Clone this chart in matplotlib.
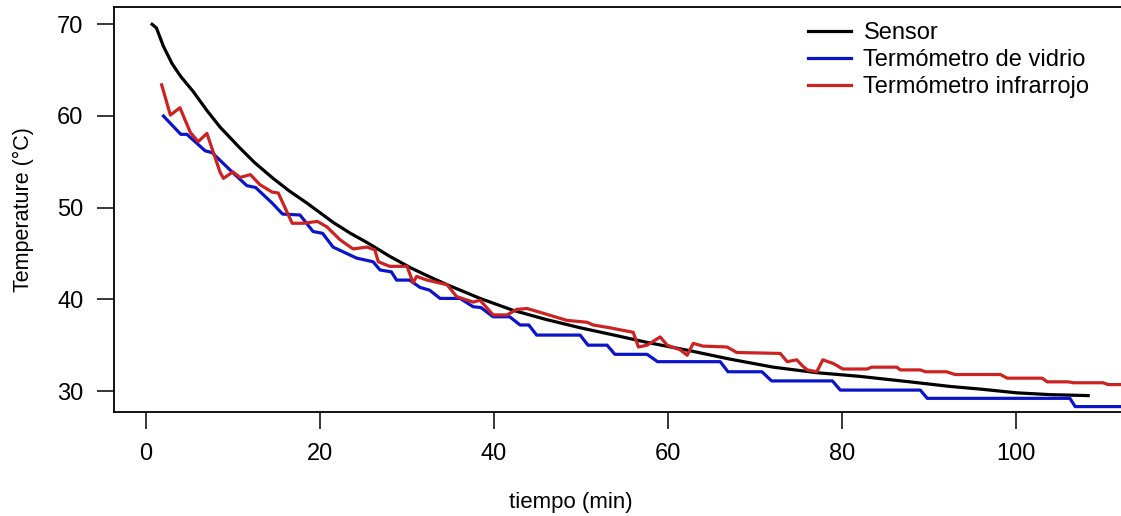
import matplotlib
matplotlib.use("Agg")
import matplotlib.pyplot as plt

plt.rcParams['font.family'] = ['Liberation Sans', 'DejaVu Sans']

# Sensor (black)
sensor_t = [0.7, 1.2, 2.0, 3.0, 4.0, 5.4, 7.0, 8.5, 10.8, 12.5, 14.6, 16.5, 18.5, 21.5,
            23.5, 25.4, 28.0, 30.5, 32.5, 34.6, 38.4, 42.2, 46.0, 49.9, 53.8, 57.6,
            62.5, 67.0, 72.1, 77.1, 82.0, 87.8, 92.4, 96.0, 100.1, 104.0, 108.3]
sensor_T = [70.0, 69.6, 67.6, 65.7, 64.3, 62.7, 60.6, 58.8, 56.5, 54.9, 53.2, 51.8, 50.5, 48.4,
            47.2, 46.2, 44.7, 43.4, 42.5, 41.6, 40.1, 38.8, 37.8, 36.9, 36.1, 35.3,
            34.4, 33.5, 32.6, 32.0, 31.6, 31.0, 30.5, 30.2, 29.8, 29.6, 29.5]

# Termómetro de vidrio (blue)
vidrio_t = [2, 4, 4.7, 6.8, 7.6, 10, 11.6, 12.6, 14.5, 15.7, 17.7, 19.2, 20.3, 21.5,
            24.2, 26.1, 26.9, 28.2, 28.8, 30.3, 31.5, 32.6, 33.8, 36.1, 37.6, 38.5,
            39.9, 41.8, 43.0, 44.0, 44.9, 49.9, 50.8, 53.0, 53.9, 57.6, 58.8, 66.0,
            66.9, 70.8, 71.9, 78.9, 79.8, 89.0, 89.8, 106.2, 106.8, 113.0]
vidrio_T = [60, 58, 58, 56.2, 56, 53.8, 52.4, 52.2, 50.5, 49.3, 49.2, 47.4, 47.2, 45.7,
            44.5, 44.1, 43.2, 43.0, 42.1, 42.1, 41.3, 41.0, 40.1, 40.1, 39.2, 39.1,
            38.1, 38.1, 37.2, 37.2, 36.1, 36.1, 35.0, 35.0, 34.0, 34.0, 33.2, 33.2,
            32.1, 32.1, 31.1, 31.1, 30.1, 30.1, 29.2, 29.2, 28.3, 28.3]

# Termómetro infrarrojo (red)
infra_t = [1.8, 2.8, 3.9, 5.1, 6.0, 7.0, 8.5, 8.9, 10.0, 10.8, 12.0, 13.1, 14.5, 15.2,
           16.8, 18.1, 19.7, 20.8, 22.3, 23.8, 25.4, 26.3, 26.7, 28.0, 30.0, 30.7,
           31.1, 32.3, 34.6, 35.7, 37.6, 38.4, 39.9, 41.5, 42.6, 43.8, 45.6, 48.4,
           50.7, 51.4, 53.3, 56.0, 56.6, 57.6, 59.1, 59.9, 61.4, 62.2, 62.9, 64.0,
           66.8, 67.9, 72.9, 73.7, 74.8, 75.4, 76.0, 77.1, 77.8, 79.0, 80.1, 82.9,
           83.4, 86.3, 86.7, 89.0, 89.6, 92.0, 93.0, 98.2, 99.0, 103.0, 103.6, 106.0,
           106.6, 110.0, 110.6, 113.0]
infra_T = [63.4, 60.1, 60.9, 58.2, 57.2, 58.1, 53.9, 53.2, 53.9, 53.3, 53.6, 52.5, 51.7, 51.6,
           48.3, 48.3, 48.5, 47.9, 46.5, 45.5, 45.7, 45.4, 44.1, 43.6, 43.6, 41.8,
           42.5, 42.1, 41.6, 40.3, 39.7, 39.9, 38.3, 38.3, 38.9, 39.0, 38.5, 37.7,
           37.5, 37.2, 36.9, 36.4, 34.8, 35.0, 35.9, 35.0, 34.5, 33.9, 35.2, 34.9,
           34.8, 34.2, 34.1, 33.2, 33.4, 32.8, 32.3, 32.1, 33.4, 33.0, 32.4, 32.4,
           32.6, 32.6, 32.3, 32.3, 32.1, 32.1, 31.8, 31.8, 31.4, 31.4, 31.0, 31.0,
           30.9, 30.9, 30.7, 30.7]

labels = ["Sensor", "Termómetro de vidrio", "Termómetro infrarrojo"]
x_ticks = [0, 20, 40, 60, 80, 100]
y_ticks = [30, 40, 50, 60, 70]

W, H = 1121, 516
fig = plt.figure(figsize=(W / 100, H / 100), dpi=100)
ax = fig.add_axes([114 / W, 1 - 412 / H, (W - 114) / W, (412 - 7) / H])

lw = 2.3
ax.plot(sensor_t, sensor_T, color='black', lw=lw, label=labels[0])
ax.plot(vidrio_t, vidrio_T, color='#0a14c8', lw=lw, label=labels[1])
ax.plot(infra_t, infra_T, color='#cc2222', lw=lw, label=labels[2])

ax.set_xlim(-3.68, 112.07)
ax.set_ylim(27.71, 71.89)
ax.set_xticks(x_ticks)
ax.set_yticks(y_ticks)
ax.tick_params(axis='both', direction='out', length=12, width=1.1, labelsize=17, colors='black')
ax.tick_params(axis='x', pad=10)
ax.tick_params(axis='y', pad=10)
for s in ['left', 'bottom', 'top']:
    ax.spines[s].set_linewidth(1.3)
ax.spines['right'].set_visible(False)

ax.set_xlabel("tiempo (min)", fontsize=16)
ax.xaxis.set_label_coords((571 - 114) / (W - 114), -(492 - 412) / (412 - 7))
ax.set_ylabel("Temperature (°C)", fontsize=15.5)
ax.yaxis.set_label_coords(-(114 - 34) / (W - 114), 0.5)

leg = ax.legend(loc='upper left', bbox_to_anchor=(808 / W, 1 - 22 / H),
                bbox_transform=fig.transFigure, frameon=False, fontsize=17,
                handlelength=1.8, handletextpad=0.55, labelspacing=0.22,
                borderpad=0, borderaxespad=0)
for line in leg.get_lines():
    line.set_linewidth(2.3)

fig.savefig("out.png", dpi=100)
